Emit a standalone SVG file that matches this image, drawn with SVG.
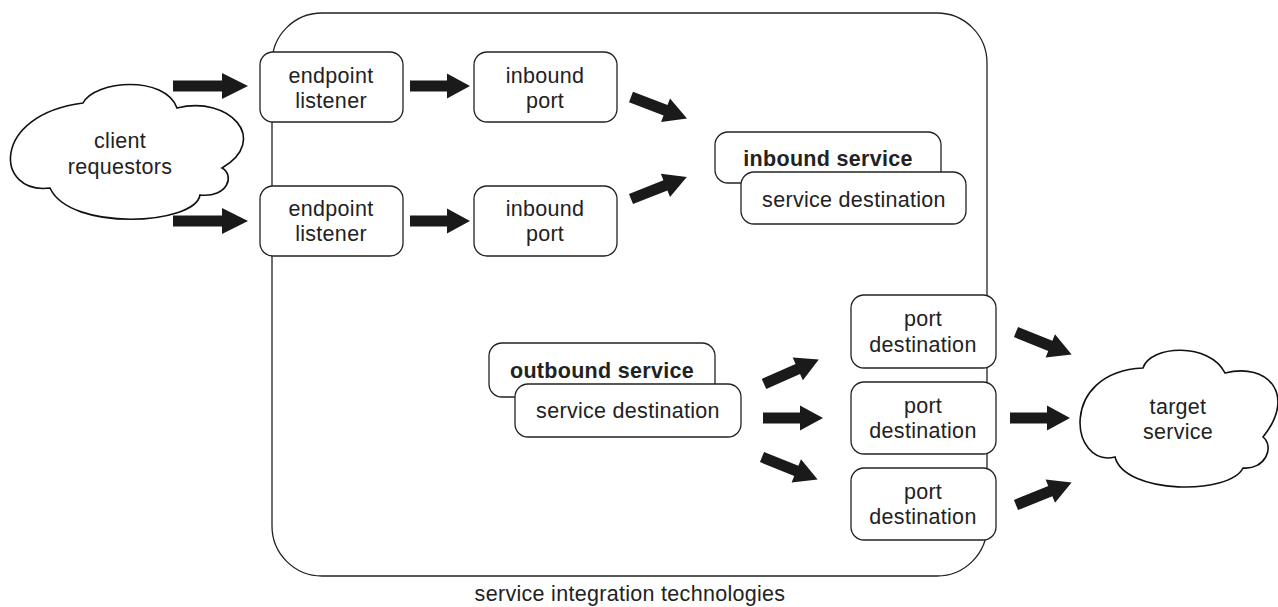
<svg xmlns="http://www.w3.org/2000/svg" width="1278" height="607" viewBox="0 0 1278 607">
<style>
.box{fill:#fff;stroke:#222;stroke-width:1.3}
.cloud{fill:#fff;stroke:#111;stroke-width:1.6}
.frame{fill:none;stroke:#222;stroke-width:1.3}
text{font-family:"Liberation Sans",Arial,sans-serif;font-size:21.5px;fill:#222;text-anchor:middle;letter-spacing:0.3px}
.b{font-weight:bold}
.arrow{fill:#1a1a1a}
</style>
<defs>
<path id="arL" d="M0,-5.5 H49 V-13 L75,0 L49,13 V5.5 H0 Z"/>
<path id="arS" d="M0,-5.5 H37 V-12.5 L60,0 L37,12.5 V5.5 H0 Z"/>
</defs>
<g id="container">
<rect class="frame" x="272" y="13" width="715" height="563" rx="50" ry="50"/>
<text x="630" y="601">service integration technologies</text>
</g>
<g id="client-requestors">
<path class="cloud" d="M83,103 C95,80 165,75 177,108 C230,95 270,140 222,168 C235,175 228,198 200,195 C195,225 70,232 50,188 C-5,195 -10,115 83,103 Z"/>
<text x="120" y="148">client</text>
<text x="120" y="174">requestors</text>
</g>
<g id="target-service">
<path class="cloud" d="M1143,368 C1150,345 1210,342 1225,373 C1268,362 1297,395 1263,437 C1275,447 1265,470 1243,468 C1230,495 1125,495 1115,457 C1070,468 1058,372 1143,368 Z"/>
<text x="1178" y="414">target</text>
<text x="1178" y="439">service</text>
</g>
<g id="endpoint-listener-1">
<rect class="box" x="260" y="52" width="143" height="70" rx="13"/>
<text x="331" y="83">endpoint</text>
<text x="331" y="108">listener</text>
</g>
<g id="endpoint-listener-2">
<rect class="box" x="260" y="186" width="143" height="70" rx="13"/>
<text x="331" y="216">endpoint</text>
<text x="331" y="241">listener</text>
</g>
<g id="inbound-port-1">
<rect class="box" x="474" y="52" width="143" height="70" rx="13"/>
<text x="545" y="83">inbound</text>
<text x="545" y="108">port</text>
</g>
<g id="inbound-port-2">
<rect class="box" x="474" y="186" width="143" height="70" rx="13"/>
<text x="545" y="216">inbound</text>
<text x="545" y="241">port</text>
</g>
<g id="inbound-service">
<rect class="box" x="715" y="132" width="226" height="51" rx="13"/>
<text class="b" x="828" y="166">inbound service</text>
<rect class="box" x="741" y="172" width="225" height="52" rx="13"/>
<text x="854" y="207">service destination</text>
</g>
<g id="outbound-service">
<rect class="box" x="489" y="343" width="226" height="54" rx="13"/>
<text class="b" x="602" y="378">outbound service</text>
<rect class="box" x="515" y="384" width="226" height="53" rx="13"/>
<text x="628" y="418">service destination</text>
</g>
<g id="port-destination-1">
<rect class="box" x="851" y="295" width="145" height="73" rx="13"/>
<text x="923" y="326">port</text>
<text x="923" y="352">destination</text>
</g>
<g id="port-destination-2">
<rect class="box" x="851" y="382" width="145" height="72" rx="13"/>
<text x="923" y="413">port</text>
<text x="923" y="438">destination</text>
</g>
<g id="port-destination-3">
<rect class="box" x="851" y="468" width="145" height="72" rx="13"/>
<text x="923" y="499">port</text>
<text x="923" y="524">destination</text>
</g>
<g id="connectors" class="arrow">
<use href="#arL" transform="translate(173,86)"/>
<use href="#arL" transform="translate(173,221)"/>
<use href="#arS" transform="translate(410,86)"/>
<use href="#arS" transform="translate(410,221)"/>
<use href="#arS" transform="translate(631,97) rotate(21)"/>
<use href="#arS" transform="translate(631,199) rotate(-21.5)"/>
<use href="#arS" transform="translate(764,384) rotate(-24)"/>
<use href="#arS" transform="translate(763,418)"/>
<use href="#arS" transform="translate(762,457) rotate(22)"/>
<use href="#arS" transform="translate(1016,332) rotate(22)"/>
<use href="#arS" transform="translate(1010,418)"/>
<use href="#arS" transform="translate(1016,505) rotate(-22)"/>
</g>
</svg>
